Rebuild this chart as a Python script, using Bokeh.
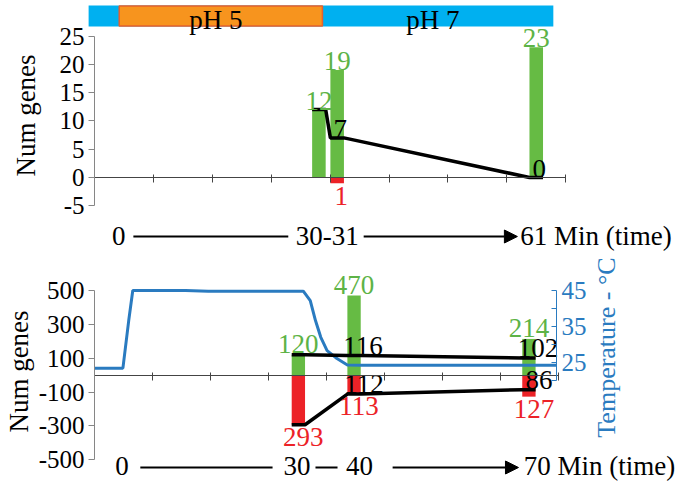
import math
from bokeh.plotting import figure
from bokeh.models import Range1d, LinearAxis, FixedTicker, Arrow, NormalHead
from bokeh.embed import file_html
from bokeh.resources import INLINE
from bokeh.core.properties import value

# ---------------- data ----------------
# top panel: pH shift (0 -> 30-31 -> 61 min)
top_slot = [3.81, 4.12, 7.50]          # position on the 8-slot category axis
top_up = [12, 19, 23]                  # up-regulated genes (green)
top_down = [0, 1, 0]                   # down-regulated genes (red)
top_kept = [12, 7, 0]                  # black line
top_ticks = [-5, 0, 5, 10, 15, 20, 25]
top_time_labels = ["0", "30-31"]
top_time_slot = [0.41, 3.95]
top_time_end = "61 Min (time)"
ph_labels = ["pH 5", "pH 7"]
ph_from = [0.42, 3.87]
ph_to = [3.87, 7.79]
ph_band_start = -0.10

# bottom panel: temperature shift (0 -> 30 -> 40 -> 70 min)
bot_slot = [3.515, 4.475, 7.49]
bot_up = [120, 470, 214]
bot_down = [293, 113, 127]
bot_up_kept = [120, 116, 102]
bot_down_kept = [293, 112, 86]
bot_ticks = [-500, -300, -100, 100, 300, 500]
temp_ticks = [25, 35, 45]
temp_minor = [20, 30, 40]
temp_slot = [0.0, 0.49, 0.59, 0.66, 1.57, 1.96, 3.60, 3.72, 3.81, 3.90, 4.01, 4.18, 4.36, 4.60, 7.97]
temp_c = [23.3, 23.3, 36.6, 45.0, 45.0, 44.8, 44.8, 42.2, 36.6, 32.0, 28.2, 26.0, 24.2, 24.1, 24.1]
bot_time_labels = ["0", "30", "40"]
bot_time_slot = [0.474, 3.49, 4.57]
bot_time_end = "70 Min (time)"
axis_slots = [1, 2, 3, 4, 5, 6, 7, 8]

# ---------------- style / layout ----------------
FONT = "'Liberation Serif', 'Times New Roman', serif"
GREEN = "#66BB44"
GREEN_T = "#5DB346"
RED = "#EC2227"
BLUE_T = "#2A7BC0"
PH_BLUE = "#00B0F0"
PH_ORANGE = "#F7941E"
PH_EDGE = "#E8602C"
GRAY = "#868686"
AX = "#444444"
W, H = 687, 485
PX0, PY0 = 0, 0          # page offset of the figure
AXIS_X = 94              # page x of both y axes
BAR_W = 0.23
FS = "27px"
TICK_FS = "25px"
FIX = 7                  # px correction for the alphabetic baseline

# top panel scales (page pixels)
T0, TK, TKX = 177.0, 5.66, 58.9
# bottom panel scales
B0, BK, BKX = 374.65, 0.1693, 58.0
C45, CK = 290.0, 3.58
TEMP_AXIS_X = 556

def ty(py):
    return (T0 - py) / TK
def tx(px):
    return (px - AXIS_X) / TKX
def by(py):
    return (B0 - py) / BK
def bx(px):
    return (px - AXIS_X) / BKX
def cy(py):
    return 45 + (C45 - py) / CK

p = figure(width=W, height=H, output_backend="svg", toolbar_location=None,
           x_range=Range1d(tx(PX0), tx(PX0 + W)),
           y_range=Range1d(ty(PY0 + H), ty(PY0)),
           x_axis_location=None, y_axis_location=None,
           min_border_left=0, min_border_right=0, min_border_top=0, min_border_bottom=0)
p.extra_x_ranges = {"bx": Range1d(bx(PX0), bx(PX0 + W))}
p.extra_y_ranges = {"by": Range1d(by(PY0 + H), by(PY0)),
                    "temp": Range1d(cy(PY0 + H), cy(PY0))}
p.outline_line_color = None
p.background_fill_color = "white"
p.grid.visible = False


def num_axis(yr, xr, bounds, ticks):
    ax = LinearAxis(y_range_name=yr, x_range_name=xr, fixed_location=0, bounds=bounds,
                    ticker=FixedTicker(ticks=ticks),
                    major_label_overrides={t: str(t) for t in ticks},
                    axis_line_color=GRAY, major_tick_line_color=GRAY, minor_tick_line_color=None,
                    major_tick_out=6, major_tick_in=0, major_label_standoff=4,
                    major_label_text_font=FONT, major_label_text_font_size=TICK_FS,
                    major_label_text_color="black")
    p.add_layout(ax, "left")


def cat_axis(yr, xr):
    ax = LinearAxis(y_range_name=yr, x_range_name=xr, fixed_location=0,
                    bounds=(0, axis_slots[-1]), ticker=FixedTicker(ticks=axis_slots),
                    major_label_overrides={s: "" for s in axis_slots},
                    axis_line_color=AX, major_tick_line_color=AX, minor_tick_line_color=None,
                    major_tick_in=3, major_tick_out=5)
    p.add_layout(ax, "below")


def txt(xs, ys, texts, color, align="center", baseline="alphabetic", xo=0,
        size=FS, xr="default", yr="default", angle=0.0):
    p.text(x=xs, y=ys, text=texts, text_color=color, text_font=value(FONT),
           text_font_size=size, text_align=align, text_baseline=baseline,
           x_offset=xo, x_range_name=xr, y_range_name=yr, angle=angle)


def bar_line(slots, vals):
    xs, ys = [], []
    for s, v in zip(slots, vals):
        xs += [s - BAR_W / 2, s + BAR_W / 2]
        ys += [v, v]
    return xs, ys

# ================= top panel =================
num_axis("default", "default", (-5, 25), top_ticks)
cat_axis("default", "default")
txt([tx(25)], [ty(115)], ["Num genes"], "black", baseline="middle", angle=math.pi / 2)

p.quad(left=[ph_band_start], right=[ph_to[-1]], bottom=[ty(26)], top=[ty(5)],
       fill_color=PH_BLUE, line_color=None)
p.quad(left=ph_from[:1], right=ph_to[:1], bottom=[ty(25.5)], top=[ty(5.5)],
       fill_color=PH_ORANGE, line_color=PH_EDGE, line_width=1.5)
txt([(a + b) / 2 for a, b in zip(ph_from, ph_to)], [ty(26 - FIX)] * 2, ph_labels, "black", xo=-5)

p.vbar(x=top_slot, top=top_up, bottom=0, width=BAR_W, fill_color=GREEN, line_color=None)
p.vbar(x=top_slot, top=0, bottom=[-d for d in top_down], width=BAR_W, fill_color=RED, line_color=None)
lx, ly = bar_line(top_slot, top_kept)
p.line(lx, ly, line_color="black", line_width=3.5)

txt(top_slot, [v + (2 + FIX) / TK for v in top_up], [str(v) for v in top_up], GREEN_T)
rd = [(s, d) for s, d in zip(top_slot, top_down) if d > 0]
txt([s for s, d in rd], [-d - 4 / TK for s, d in rd], [str(d) for s, d in rd], RED, baseline="top", xo=4)
txt(top_slot[1:], [v + (2 + FIX) / TK for v in top_kept[1:]], [str(v) for v in top_kept[1:]], "black", xo=3)

txt(top_time_slot, [ty(242 - FIX)] * 2, top_time_labels, "black")
txt([7.23], [ty(242 - FIX)], [top_time_end], "black", align="left")
p.segment(x0=[0.66], y0=[ty(236)], x1=[3.29], y1=[ty(236)], line_color="black", line_width=2)
p.add_layout(Arrow(end=NormalHead(size=13, fill_color="black", line_color="black"),
                   x_start=4.57, y_start=ty(236), x_end=7.18, y_end=ty(236),
                   line_color="black", line_width=2))

# ================= bottom panel =================
num_axis("by", "bx", (-500, 500), bot_ticks)
cat_axis("by", "bx")
txt([bx(18)], [by(371)], ["Num genes"], "black", baseline="middle",
    angle=math.pi / 2, xr="bx", yr="by")

tax = LinearAxis(y_range_name="temp", x_range_name="bx", fixed_location=bx(TEMP_AXIS_X),
                 bounds=(20, 45), ticker=FixedTicker(ticks=temp_ticks, minor_ticks=temp_minor),
                 axis_line_color=BLUE_T, major_tick_line_color=BLUE_T, minor_tick_line_color=BLUE_T,
                 major_tick_in=5, major_tick_out=0, minor_tick_in=5, minor_tick_out=0,
                 major_label_standoff=5, major_label_text_font=FONT, major_label_text_font_size=TICK_FS,
                 major_label_text_color=BLUE_T)
p.add_layout(tax, "right")
txt([bx(606)], [cy(347)], ["Temperature - °C"], BLUE_T, baseline="middle", size="26px",
    angle=math.pi / 2, xr="bx", yr="temp")

B = dict(x_range_name="bx", y_range_name="by")
p.vbar(x=bot_slot, top=bot_up, bottom=0, width=BAR_W, fill_color=GREEN, line_color=None, **B)
p.vbar(x=bot_slot, top=0, bottom=[-d for d in bot_down], width=BAR_W, fill_color=RED, line_color=None, **B)
p.line(temp_slot, temp_c, x_range_name="bx", y_range_name="temp", line_color=BLUE_T, line_width=3)
lx, ly = bar_line(bot_slot, bot_up_kept)
p.line(lx, ly, line_color="black", line_width=3.5, **B)
lx, ly = bar_line(bot_slot, [-v for v in bot_down_kept])
p.line(lx, ly, line_color="black", line_width=3.5, **B)

txt(bot_slot, [v + (4 + FIX) / BK for v in bot_up], [str(v) for v in bot_up], GREEN_T, xr="bx", yr="by")
txt(bot_slot, [-d - 3 / BK for d in bot_down], [str(d) for d in bot_down], RED, baseline="top", xo=5, xr="bx", yr="by")
txt(bot_slot[1:], [v + (3 + FIX) / BK for v in bot_up_kept[1:]], [str(v) for v in bot_up_kept[1:]],
    "black", xo=9, xr="bx", yr="by")
txt(bot_slot[1:], [-v + (3 + FIX) / BK for v in bot_down_kept[1:]], [str(v) for v in bot_down_kept[1:]],
    "black", xo=10, xr="bx", yr="by")

txt(bot_time_slot, [by(472 - FIX)] * 3, bot_time_labels, "black", xr="bx", yr="by")
txt([7.40], [by(472 - FIX)], [bot_time_end], "black", align="left", xr="bx", yr="by")
p.segment(x0=[0.79, 3.81], y0=[by(467)] * 2, x1=[3.07, 4.19], y1=[by(467)] * 2,
          line_color="black", line_width=2, **B)
p.add_layout(Arrow(end=NormalHead(size=13, fill_color="black", line_color="black"),
                   x_start=5.14, y_start=by(467), x_end=7.31, y_end=by(467),
                   line_color="black", line_width=2, **B))

open("out.html", "w").write(file_html(p, INLINE))
